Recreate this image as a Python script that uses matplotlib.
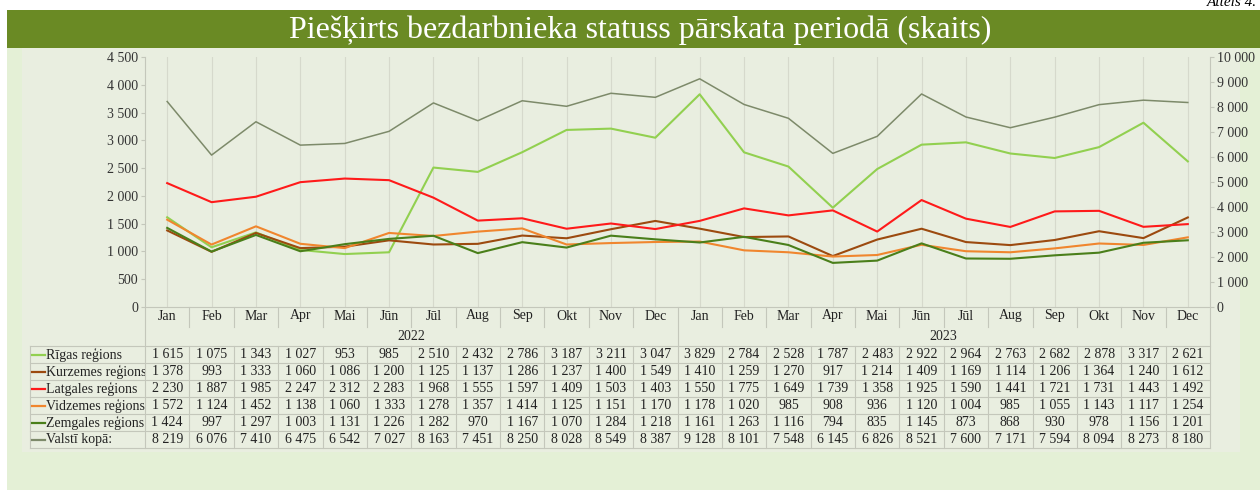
import matplotlib.pyplot as plt
from matplotlib.patches import Rectangle
from matplotlib.lines import Line2D
from matplotlib.ticker import FuncFormatter

months = ['Jan', 'Feb', 'Mar', 'Apr', 'Mai', 'Jūn', 'Jūl', 'Aug', 'Sep', 'Okt', 'Nov', 'Dec'] * 2
years = ['2022', '2023']

riga = [1615, 1075, 1343, 1027, 953, 985, 2510, 2432, 2786, 3187, 3211, 3047,
        3829, 2784, 2528, 1787, 2483, 2922, 2964, 2763, 2682, 2878, 3317, 2621]
kurzeme = [1378, 993, 1333, 1060, 1086, 1200, 1125, 1137, 1286, 1237, 1400, 1549,
           1410, 1259, 1270, 917, 1214, 1409, 1169, 1114, 1206, 1364, 1240, 1612]
latgale = [2230, 1887, 1985, 2247, 2312, 2283, 1968, 1555, 1597, 1409, 1503, 1403,
           1550, 1775, 1649, 1739, 1358, 1925, 1590, 1441, 1721, 1731, 1443, 1492]
vidzeme = [1572, 1124, 1452, 1138, 1060, 1333, 1278, 1357, 1414, 1125, 1151, 1170,
           1178, 1020, 985, 908, 936, 1120, 1004, 985, 1055, 1143, 1117, 1254]
zemgale = [1424, 997, 1297, 1003, 1131, 1226, 1282, 970, 1167, 1070, 1284, 1218,
           1161, 1263, 1116, 794, 835, 1145, 873, 868, 930, 978, 1156, 1201]
total = [8219, 6076, 7410, 6475, 6542, 7027, 8163, 7451, 8250, 8028, 8549, 8387,
         9128, 8101, 7548, 6145, 6826, 8521, 7600, 7171, 7594, 8094, 8273, 8180]

series = [
    ('Rīgas reģions', riga, '#92d050'),
    ('Kurzemes reģions', kurzeme, '#9c4a0f'),
    ('Latgales reģions', latgale, '#ff1a1a'),
    ('Vidzemes reģions', vidzeme, '#f0862e'),
    ('Zemgales reģions', zemgale, '#4a7f1a'),
]
total_label = 'Valstī kopā:'
total_color = '#7d8a6a'

plt.rcParams['font.family'] = ['Liberation Serif', 'DejaVu Serif']

W, H = 1260, 490
fig = plt.figure(figsize=(W / 100, H / 100), dpi=100)
fig.patch.set_facecolor('white')


def fx(px):
    return px / W


def fy(py):
    return 1 - py / H


# backgrounds (negative zorder so they sit under the axes)
fig.patches.append(Rectangle((fx(7), 0), fx(1260 - 7), fy(48), transform=fig.transFigure,
                             facecolor='#e4f0d6', edgecolor='none', zorder=-3))
fig.patches.append(Rectangle((fx(22), fy(452)), fx(1240 - 22), fy(48) - fy(452),
                             transform=fig.transFigure, facecolor='#e9eee0', edgecolor='none', zorder=-2))
fig.patches.append(Rectangle((fx(7), fy(48)), fx(1260 - 7), fy(10) - fy(48), transform=fig.transFigure,
                             facecolor='#6a8a24', edgecolor='none', zorder=-1))
fig.text(fx(640), fy(30), 'Piešķirts bezdarbnieka statuss pārskata periodā (skaits)',
         color='white', fontsize=23, ha='center', va='center')
fig.text(fx(1257), fy(3), 'Attēls 4.', fontsize=11, style='italic', ha='right', va='center')

left, right, top, bottom = 145, 1210, 57, 307
ax = fig.add_axes([fx(left), fy(bottom), fx(right - left), fy(top) - fy(bottom)])
ax.set_facecolor('none')
ax2 = ax.twinx()

x = list(range(len(months)))
for name, vals, col in series:
    ax.plot(x, vals, color=col, lw=1.5, zorder=3)
ax2.plot(x, total, color=total_color, lw=1.1, zorder=3)

ax.set_xlim(-0.5, len(months) - 0.5)
ax.set_ylim(0, 4500)
ax2.set_ylim(0, 10000)
ax.set_yticks(range(0, 4501, 500))
ax2.set_yticks(range(0, 10001, 1000))
fmt = FuncFormatter(lambda v, p: f'{v:,.0f}'.replace(',', ' '))
ax.yaxis.set_major_formatter(fmt)
ax2.yaxis.set_major_formatter(fmt)
ax.set_xticks(x)
ax.set_xticklabels([])
ax.tick_params(axis='x', length=0)
ax.grid(axis='x', color='#d6d9cc', lw=0.8)
axis_col = '#c4c7bb'
for a in (ax, ax2):
    for s in a.spines.values():
        s.set_visible(False)
    a.tick_params(axis='y', labelsize=10, colors=axis_col, labelcolor='#333333', length=3, pad=2)
ax2.tick_params(axis='x', length=0)


# axis-related lines drawn in figure coords
def fline(x0, y0, x1, y1, col='#c4c7bb', lw=0.8):
    fig.add_artist(Line2D([fx(x0), fx(x1)], [fy(y0), fy(y1)], transform=fig.transFigure,
                          color=col, lw=lw, zorder=5))


cw = (right - left) / len(months)
row_h = 17
table_top = 346
n_rows = len(series) + 1
table_bot = table_top + n_rows * row_h

fline(left, top, left, table_bot)
fline(right, top, right, table_bot)
fline(left, bottom, right, bottom)
for i in range(1, len(months)):
    xp = left + i * cw
    if i == 12:
        fline(xp, bottom, xp, table_top)
    else:
        fline(xp, bottom, xp, 327)
    fline(xp, table_top, xp, table_bot)
for r in range(n_rows + 1):
    yp = table_top + r * row_h
    fline(30, yp, right, yp)
fline(30, table_top, 30, table_bot)

# month and year labels
for i, m in enumerate(months):
    fig.text(fx(left + (i + 0.5) * cw), fy(316), m, fontsize=10, ha='center', va='center', color='#222222')
for j, yr in enumerate(years):
    fig.text(fx(left + (6 + 12 * j) * cw), fy(336), yr, fontsize=10, ha='center', va='center', color='#222222')

# table rows
rows = [(n, v, c) for n, v, c in series] + [(total_label, total, total_color)]
for r, (name, vals, col) in enumerate(rows):
    yc = table_top + (r + 0.5) * row_h
    fline(32, yc, 45, yc, col=col, lw=1.6)
    fig.text(fx(46), fy(yc), name, fontsize=10, ha='left', va='center', color='#222222')
    for i, v in enumerate(vals):
        fig.text(fx(left + (i + 0.5) * cw), fy(yc), f'{v:,}'.replace(',', ' '),
                 fontsize=10, ha='center', va='center', color='#222222')

fig.savefig('out.png', dpi=100, facecolor=fig.get_facecolor())
